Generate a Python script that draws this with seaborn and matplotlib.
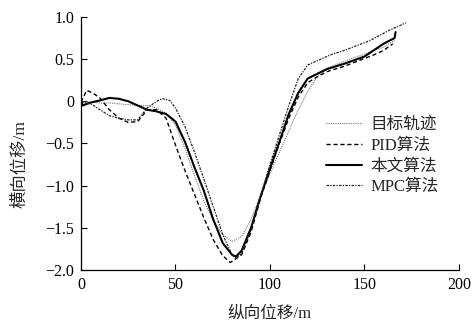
import matplotlib
matplotlib.use("Agg")
import matplotlib.pyplot as plt
import seaborn as sns
import pandas as pd

# ---- data ----
target_x = [0, 3, 6, 10, 15, 20, 25, 30, 35, 40, 45, 50, 55, 60, 65, 70, 75, 80, 85, 90, 95,
            100, 105, 110, 115, 120, 125, 130, 140, 150, 160, 166]
target_y = [0.0, -0.01, -0.01, -0.02, -0.02, -0.03, -0.04, -0.05, -0.05, -0.08, -0.14, -0.28,
            -0.56, -0.88, -1.18, -1.42, -1.58, -1.66, -1.6, -1.4, -1.12,
            -0.86, -0.6, -0.35, -0.1, 0.12, 0.29, 0.39, 0.48, 0.56, 0.64, 0.72]

pid_x = [0, 3, 6, 10, 15, 20, 25, 30, 35, 40, 45, 50, 55, 60, 65, 70, 75, 79, 85, 90, 95,
         100, 105, 110, 115, 120, 125, 130, 140, 148, 155, 160, 165]
pid_y = [-0.01, 0.13, 0.1, 0.04, -0.1, -0.2, -0.25, -0.24, -0.1, -0.1, -0.2, -0.52, -0.82,
         -1.1, -1.38, -1.64, -1.83, -1.91, -1.82, -1.55, -1.15,
         -0.82, -0.5, -0.2, 0.05, 0.22, 0.29, 0.35, 0.42, 0.49, 0.55, 0.6, 0.68]

ours_x = [0, 1, 3, 6, 10, 15, 20, 25, 30, 35, 40, 45, 50, 55, 60, 65, 70, 75, 80, 82, 85, 90, 95,
          100, 105, 110, 115, 120, 130, 140, 150, 156, 160, 166, 166.5]
ours_y = [0.0, -0.05, -0.03, -0.01, 0.01, 0.04, 0.03, 0.0, -0.05, -0.1, -0.12, -0.15, -0.24,
          -0.48, -0.78, -1.06, -1.4, -1.68, -1.82, -1.84, -1.77, -1.5, -1.13,
          -0.8, -0.48, -0.15, 0.1, 0.27, 0.38, 0.45, 0.53, 0.62, 0.68, 0.75, 0.82]

mpc_x = [0, 3, 6, 10, 15, 20, 25, 30, 35, 40, 43, 47, 50, 55, 60, 65, 70, 75, 80, 82, 85, 90, 95,
         100, 105, 110, 115, 120, 125, 132, 139, 153, 163, 172]
mpc_y = [-0.01, -0.02, -0.04, -0.1, -0.17, -0.2, -0.22, -0.22, -0.08, 0.0, 0.03, 0.01, -0.08,
         -0.3, -0.6, -0.92, -1.25, -1.58, -1.82, -1.86, -1.8, -1.52, -1.13,
         -0.75, -0.4, -0.05, 0.27, 0.43, 0.48, 0.55, 0.6, 0.72, 0.84, 0.93]

labels = ["目标轨迹", "PID算法", "本文算法", "MPC算法"]
x_ticks = [0, 50, 100, 150, 200]
y_ticks = [1.0, 0.5, 0, -0.5, -1.0, -1.5, -2.0]
y_tick_labels = ["1.0", "0.5", "0", "\u22120.5", "\u22121.0", "\u22121.5", "\u22122.0"]

sns.set_theme(style="ticks")
plt.rcParams["font.family"] = ["Liberation Serif", "Noto Sans CJK SC"]
plt.rcParams["axes.unicode_minus"] = True

fig = plt.figure(figsize=(4.74, 3.25), dpi=100)
ax = fig.add_axes([0.171, 0.169, 0.797, 0.779])

series = [
    (target_x, target_y, dict(color="#777777", lw=0.8, linestyle=(0, (1, 1)))),
    (pid_x, pid_y, dict(color="black", lw=1.0, linestyle=(0, (3, 2)))),
    (ours_x, ours_y, dict(color="black", lw=1.5, linestyle="-")),
    (mpc_x, mpc_y, dict(color="#222222", lw=0.9, linestyle=(0, (2, 1, 1, 1)))),
]
for (xs, ys, st), lab in zip(series, labels):
    df = pd.DataFrame({"x": xs, "y": ys})
    sns.lineplot(data=df, x="x", y="y", ax=ax, label=lab, sort=False,
                 estimator=None, **st)

ax.set_xlim(0, 200)
ax.set_ylim(-2.0, 1.0)
ax.set_xticks(x_ticks)
ax.set_xticklabels([str(t) for t in x_ticks])
ax.set_yticks(y_ticks)
ax.set_yticklabels(y_tick_labels)
ax.tick_params(direction="in", length=4, width=0.8, labelsize=11.5, colors="black", pad=5)
for s in ["top", "right"]:
    ax.spines[s].set_visible(False)
for s in ["left", "bottom"]:
    ax.spines[s].set_linewidth(0.9)
    ax.spines[s].set_color("black")

ax.set_xlabel("纵向位移/m", fontsize=12)
ax.set_ylabel("横向位移/m", fontsize=12.5)
ax.xaxis.set_label_coords(0.5, -0.14)
ax.yaxis.set_label_coords(-0.14, 0.42)

leg = ax.legend(loc="upper left", bbox_to_anchor=(0.63, 0.63), frameon=False,
                fontsize=12, handlelength=2.2, handletextpad=0.5, labelspacing=0.28,
                borderaxespad=0)

fig.savefig("out.png", dpi=100)
